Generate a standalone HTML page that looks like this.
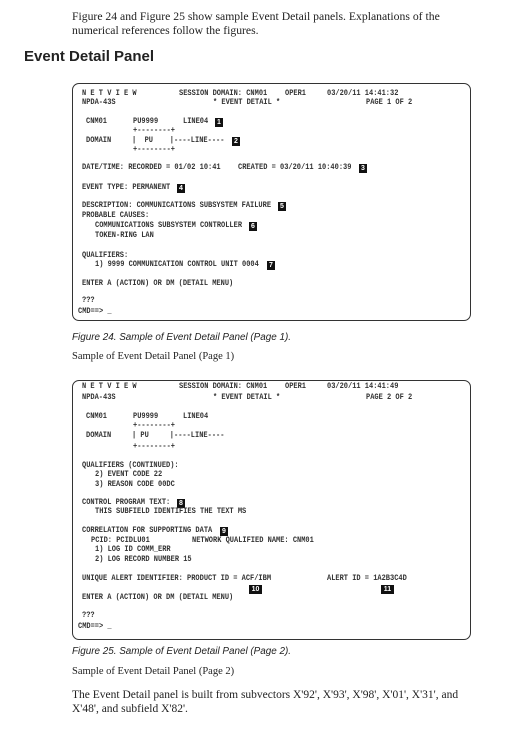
<!DOCTYPE html>
<html><head><meta charset="utf-8"><style>
body{margin:0;width:506px;height:732px;background:#fff;position:relative;overflow:hidden;color:#222}
.a{position:absolute;white-space:pre;line-height:1}
.m{font-family:"Liberation Mono",monospace;font-size:7px;font-weight:bold;color:#333;transform:scaleY(1.2);transform-origin:0 50%}
.s{font-family:"Liberation Serif",serif;font-size:11.7px}
.i{font-family:"Liberation Sans",sans-serif;font-style:italic;font-size:9.9px}
.b{position:absolute;background:#111;color:#fff;font-family:"Liberation Sans",sans-serif;font-weight:bold;font-size:7px;line-height:9px;height:9px;min-width:8px;text-align:center;padding:0 1px;box-sizing:border-box}
.box{position:absolute;border:1.3px solid #333;border-radius:7px;left:72px;width:397px}
</style></head><body>
<div class="a s" style="left:72px;top:11px">Figure 24 and Figure 25 show sample Event Detail panels. Explanations of the</div>
<div class="a s" style="left:72px;top:25px">numerical references follow the figures.</div>
<div class="a" style="left:24px;top:49px;font-family:'Liberation Sans',sans-serif;font-weight:bold;font-size:15px">Event Detail Panel</div>

<div class="box" style="top:83px;height:236px"></div>
<div class="a m" style="left:82px;top:91px">N E T V I E W</div>
<div class="a m" style="left:179px;top:91px">SESSION DOMAIN: CNM01</div>
<div class="a m" style="left:285px;top:91px">OPER1</div>
<div class="a m" style="left:327px;top:91px">03/20/11 14:41:32</div>
<div class="a m" style="left:82px;top:100px">NPDA-43S</div>
<div class="a m" style="left:213px;top:100px">* EVENT DETAIL *</div>
<div class="a m" style="left:366px;top:100px">PAGE 1 OF 2</div>
<div class="a m" style="left:86px;top:119px">CNM01</div>
<div class="a m" style="left:133px;top:119px">PU9999</div>
<div class="a m" style="left:183px;top:119px">LINE04</div>
<div class="b" style="left:215px;top:118px">1</div>
<div class="a m" style="left:133px;top:128px">+--------+</div>
<div class="a m" style="left:86px;top:138px">DOMAIN</div>
<div class="a m" style="left:132px;top:138px">|  PU    |----LINE----</div>
<div class="b" style="left:232px;top:137px">2</div>
<div class="a m" style="left:133px;top:147px">+--------+</div>
<div class="a m" style="left:82px;top:165px">DATE/TIME: RECORDED = 01/02 10:41</div>
<div class="a m" style="left:238px;top:165px">CREATED = 03/20/11 10:40:39</div>
<div class="b" style="left:359px;top:164px">3</div>
<div class="a m" style="left:82px;top:185px">EVENT TYPE: PERMANENT</div>
<div class="b" style="left:177px;top:184px">4</div>
<div class="a m" style="left:82px;top:203px">DESCRIPTION: COMMUNICATIONS SUBSYSTEM FAILURE</div>
<div class="b" style="left:278px;top:202px">5</div>
<div class="a m" style="left:82px;top:213px">PROBABLE CAUSES:</div>
<div class="a m" style="left:95px;top:223px">COMMUNICATIONS SUBSYSTEM CONTROLLER</div>
<div class="b" style="left:249px;top:222px">6</div>
<div class="a m" style="left:95px;top:233px">TOKEN-RING LAN</div>
<div class="a m" style="left:82px;top:253px">QUALIFIERS:</div>
<div class="a m" style="left:95px;top:262px">1) 9999 COMMUNICATION CONTROL UNIT 0004</div>
<div class="b" style="left:267px;top:261px">7</div>
<div class="a m" style="left:82px;top:281px">ENTER A (ACTION) OR DM (DETAIL MENU)</div>
<div class="a m" style="left:82px;top:298px">???</div>
<div class="a m" style="left:78px;top:309px">CMD==&gt; _</div>

<div class="a i" style="left:72px;top:333px">Figure 24. Sample of Event Detail Panel (Page 1).</div>
<div class="a s" style="left:72px;top:352px;font-size:10.5px">Sample of Event Detail Panel (Page 1)</div>

<div class="box" style="top:380px;height:258px"></div>
<div class="a m" style="left:82px;top:384px">N E T V I E W</div>
<div class="a m" style="left:179px;top:384px">SESSION DOMAIN: CNM01</div>
<div class="a m" style="left:285px;top:384px">OPER1</div>
<div class="a m" style="left:327px;top:384px">03/20/11 14:41:49</div>
<div class="a m" style="left:82px;top:395px">NPDA-43S</div>
<div class="a m" style="left:213px;top:395px">* EVENT DETAIL *</div>
<div class="a m" style="left:366px;top:395px">PAGE 2 OF 2</div>
<div class="a m" style="left:86px;top:414px">CNM01</div>
<div class="a m" style="left:133px;top:414px">PU9999</div>
<div class="a m" style="left:183px;top:414px">LINE04</div>
<div class="a m" style="left:133px;top:423px">+--------+</div>
<div class="a m" style="left:86px;top:433px">DOMAIN</div>
<div class="a m" style="left:132px;top:433px">| PU     |----LINE----</div>
<div class="a m" style="left:133px;top:444px">+--------+</div>
<div class="a m" style="left:82px;top:463px">QUALIFIERS (CONTINUED):</div>
<div class="a m" style="left:95px;top:472px">2) EVENT CODE 22</div>
<div class="a m" style="left:95px;top:482px">3) REASON CODE 00DC</div>
<div class="a m" style="left:82px;top:500px">CONTROL PROGRAM TEXT:</div>
<div class="b" style="left:177px;top:499px">8</div>
<div class="a m" style="left:95px;top:509px">THIS SUBFIELD IDENTIFIES THE TEXT MS</div>
<div class="a m" style="left:82px;top:528px">CORRELATION FOR SUPPORTING DATA</div>
<div class="b" style="left:220px;top:527px">9</div>
<div class="a m" style="left:91px;top:538px">PCID: PCIDLU01</div>
<div class="a m" style="left:192px;top:538px">NETWORK QUALIFIED NAME: CNM01</div>
<div class="a m" style="left:95px;top:547px">1) LOG ID COMM_ERR</div>
<div class="a m" style="left:95px;top:557px">2) LOG RECORD NUMBER 15</div>
<div class="a m" style="left:82px;top:576px">UNIQUE ALERT IDENTIFIER: PRODUCT ID = ACF/IBM</div>
<div class="a m" style="left:327px;top:576px">ALERT ID = 1A2B3C4D</div>
<div class="b" style="left:249px;top:585px;width:13px">10</div>
<div class="b" style="left:381px;top:585px;width:13px">11</div>
<div class="a m" style="left:82px;top:595px">ENTER A (ACTION) OR DM (DETAIL MENU)</div>
<div class="a m" style="left:82px;top:613px">???</div>
<div class="a m" style="left:78px;top:624px">CMD==&gt; _</div>

<div class="a i" style="left:72px;top:647px">Figure 25. Sample of Event Detail Panel (Page 2).</div>
<div class="a s" style="left:72px;top:667px;font-size:10.5px">Sample of Event Detail Panel (Page 2)</div>
<div class="a s" style="left:72px;top:690px;font-size:11.5px">The Event Detail panel is built from subvectors X'92', X'93', X'98', X'01', X'31', and</div>
<div class="a s" style="left:72px;top:704px;font-size:11.5px">X'48', and subfield X'82'.</div>
</body></html>
